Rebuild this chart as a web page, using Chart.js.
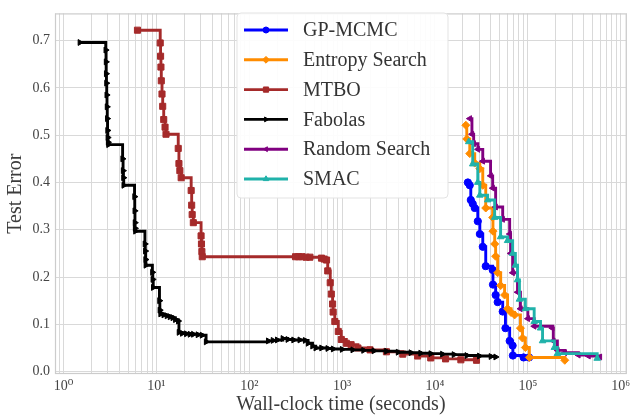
<!DOCTYPE html>
<html>
<head>
<meta charset="utf-8">
<script src="https://cdn.jsdelivr.net/npm/chart.js@4"></script>
<style>
  html, body { margin: 0; padding: 0; background: #ffffff; }
  #wrap { width: 632px; height: 419px; position: relative; }
</style>
</head>
<body>
<div id="wrap"><canvas id="c"></canvas></div>
<script>
// ---------- data ----------
const seriesNames = ['GP-MCMC', 'Entropy Search', 'MTBO', 'Fabolas', 'Random Search', 'SMAC'];

const gpTime  = [22600, 23700, 24300, 25500, 26800, 28900, 30400, 32700, 35200, 41800, 42100, 45000, 47300, 53600, 57400, 63700, 68600, 69000, 90000, 103000];
const gpError = [0.400, 0.394, 0.363, 0.355, 0.346, 0.318, 0.291, 0.264, 0.223, 0.215, 0.184, 0.162, 0.147, 0.127, 0.092, 0.065, 0.055, 0.034, 0.030, 0.030];

const esTime  = [21500, 22000, 23700, 26800, 30400, 32700, 35200, 41800, 42100, 44000, 45000, 47300, 51000, 56200, 60500, 66000, 72000, 83200, 87600, 94000, 103800, 250000];
const esError = [0.521, 0.492, 0.461, 0.441, 0.429, 0.394, 0.346, 0.326, 0.297, 0.270, 0.244, 0.209, 0.182, 0.162, 0.133, 0.125, 0.120, 0.092, 0.071, 0.051, 0.030, 0.024];

const mtboTime  = [6.26, 11.0, 11.1, 11.2, 11.3, 11.5, 11.7, 12.0, 12.4, 12.7, 17.2, 17.5, 17.9, 18.5, 23.7, 24.0, 24.3, 25.0, 30.3, 30.6, 30.9, 31.2,
                   315, 340, 370, 410, 450, 600, 640, 680, 700, 745, 765, 790, 800, 835, 910, 980, 1110, 1250, 1480,
                   2000, 3000, 4500, 6500, 9000, 13000, 19000, 28000];
const mtboError = [0.722, 0.695, 0.667, 0.644, 0.615, 0.587, 0.561, 0.533, 0.517, 0.502, 0.472, 0.440, 0.425, 0.410, 0.383, 0.352, 0.332, 0.315, 0.287, 0.270, 0.254, 0.243,
                   0.243, 0.243, 0.243, 0.242, 0.242, 0.240, 0.238, 0.236, 0.213, 0.188, 0.164, 0.143, 0.126, 0.106, 0.085, 0.068, 0.060, 0.057, 0.050,
                   0.046, 0.042, 0.037, 0.033, 0.029, 0.027, 0.025, 0.024];

const fabTime  = [1.50, 2.85, 2.87, 2.88, 2.90, 2.92, 2.94, 2.96, 2.98, 3.00, 3.02, 3.05,
                  4.33, 4.38, 4.42, 4.45, 5.82, 5.85, 5.88, 5.90, 5.95,
                  7.53, 7.60, 7.65, 7.70, 9.06, 9.15, 9.25, 10.8, 10.9, 11.1,
                  12, 13, 14, 15, 16, 17.2, 17.5, 19, 21, 23, 25, 28, 31, 34.3,
                  160, 180, 200, 230, 260, 300, 350, 400, 430, 480, 520, 600, 700, 800, 1000, 1300, 1700, 2200, 3000, 4000, 5500, 7000, 9000, 12000, 16000, 22000, 30000, 40000, 45000];
const fabError = [0.696, 0.680, 0.655, 0.630, 0.610, 0.585, 0.560, 0.535, 0.510, 0.495, 0.485, 0.480,
                  0.450, 0.425, 0.410, 0.394, 0.370, 0.340, 0.315, 0.303, 0.297,
                  0.270, 0.255, 0.237, 0.225, 0.210, 0.195, 0.178, 0.150, 0.130, 0.122,
                  0.120, 0.118, 0.116, 0.114, 0.110, 0.107, 0.083, 0.081, 0.080, 0.079, 0.079, 0.078, 0.077, 0.063,
                  0.065, 0.066, 0.067, 0.070, 0.068, 0.067, 0.067, 0.066, 0.060, 0.054, 0.050, 0.050, 0.049, 0.048, 0.047, 0.046, 0.045, 0.044, 0.043, 0.041, 0.040, 0.039, 0.038, 0.037, 0.036, 0.034, 0.033, 0.032, 0.031];

const rsTime  = [23700, 25000, 26100, 29000, 32700, 39700, 41800, 45000, 53600, 63700, 65200, 68600, 77400, 83200, 100000, 117000, 183000, 188000, 208000, 250000, 350000, 450000, 597000];
const rsError = [0.535, 0.502, 0.482, 0.470, 0.445, 0.414, 0.388, 0.348, 0.322, 0.291, 0.250, 0.209, 0.168, 0.133, 0.112, 0.096, 0.092, 0.065, 0.045, 0.040, 0.035, 0.033, 0.031];

const smTime  = [23100, 25500, 28900, 30400, 36900, 43900, 50900, 60500, 68600, 73400, 77400, 81200, 94000, 117000, 137000, 144000, 193000, 208000, 558000];
const smError = [0.486, 0.439, 0.400, 0.373, 0.363, 0.326, 0.285, 0.277, 0.250, 0.225, 0.194, 0.153, 0.133, 0.106, 0.092, 0.065, 0.051, 0.038, 0.028];

const xTickDecades = [0, 1, 2, 3, 4, 5, 6];
const xTickLabels  = ['10\u2070', '10\u00B9', '10\u00B2', '10\u00B3', '10\u2074', '10\u2075', '10\u2076'];
const yTickValues  = [0.0, 0.1, 0.2, 0.3, 0.4, 0.5, 0.6, 0.7];

// ---------- styling ----------
const SERIF = '"Liberation Serif", "DejaVu Serif", serif';
const colors  = ['#0000ff', '#ff8c00', '#a52a2a', '#000000', '#800080', '#20b2aa'];
const styles  = ['circle', 'rectRot', 'rect', 'triangle', 'triangle', 'triangle'];
const rots    = [0, 0, 0, 90, 270, 0];
const radii   = [3.6, 4.0, 4.3, 3.4, 3.4, 3.8];
const drawOrd = [5, 4, 3, 2, 1, 0];

const X_MIN = 0.81, X_MAX = 1.16e6, Y_MIN = -0.005, Y_MAX = 0.7575;

function pairs(xs, ys) { return xs.map((x, i) => ({x: x, y: ys[i]})); }
const allData = [pairs(gpTime, gpError), pairs(esTime, esError), pairs(mtboTime, mtboError),
                 pairs(fabTime, fabError), pairs(rsTime, rsError), pairs(smTime, smError)];

const datasets = seriesNames.map((name, i) => ({
  label: name,
  data: allData[i],
  borderColor: colors[i],
  backgroundColor: colors[i],
  pointBackgroundColor: colors[i],
  pointBorderColor: colors[i],
  pointStyle: styles[i],
  pointRotation: rots[i],
  pointRadius: radii[i],
  pointBorderWidth: 1,
  borderWidth: 2.9,
  stepped: 'before',
  fill: false,
  order: drawOrd[i]
}));

// log grid ticks: 1..9 x 10^k inside the range, plus the range ends
function buildLogTicks() {
  const vals = [X_MIN];
  for (let k = -1; k <= 6; k++) {
    for (let m = 1; m <= 9; m++) {
      const v = m * Math.pow(10, k);
      if (v > X_MIN * 1.0001 && v < X_MAX * 0.9999) vals.push(v);
    }
  }
  vals.push(X_MAX);
  return vals;
}

const framePlusLegend = {
  id: 'framePlusLegend',
  afterDatasetsDraw(chart) {
    const ctx = chart.ctx;
    const a = chart.chartArea;
    ctx.save();
    // axes frame
    ctx.strokeStyle = '#cccccc';
    ctx.lineWidth = 1.2;
    ctx.strokeRect(a.left + 0.5, a.top + 0.5, a.right - a.left - 1, a.bottom - a.top - 1);

    // legend box
    const bx = 237, by = 13, bw = 211, bh = 185, r = 4;
    ctx.beginPath();
    ctx.moveTo(bx + r, by);
    ctx.lineTo(bx + bw - r, by); ctx.quadraticCurveTo(bx + bw, by, bx + bw, by + r);
    ctx.lineTo(bx + bw, by + bh - r); ctx.quadraticCurveTo(bx + bw, by + bh, bx + bw - r, by + bh);
    ctx.lineTo(bx + r, by + bh); ctx.quadraticCurveTo(bx, by + bh, bx, by + bh - r);
    ctx.lineTo(bx, by + r); ctx.quadraticCurveTo(bx, by, bx + r, by);
    ctx.closePath();
    ctx.fillStyle = 'rgba(255,255,255,0.9)';
    ctx.fill();
    ctx.strokeStyle = '#e3e3e3';
    ctx.lineWidth = 1;
    ctx.stroke();

    chart.data.datasets.forEach((ds, i) => {
      const y = 30 + i * 29.8;
      ctx.strokeStyle = ds.borderColor;
      ctx.fillStyle = ds.borderColor;
      ctx.lineWidth = 2.9;
      ctx.beginPath();
      ctx.moveTo(244, y); ctx.lineTo(288, y);
      ctx.stroke();
      ctx.lineWidth = 1;
      Chart.helpers.drawPoint(ctx, {pointStyle: ds.pointStyle, rotation: ds.pointRotation,
                                    radius: ds.pointRadius - 0.6, borderWidth: 1}, 266, y);
      ctx.fillStyle = '#333333';
      ctx.font = '20px ' + SERIF;
      ctx.textAlign = 'left';
      ctx.textBaseline = 'middle';
      ctx.fillText(ds.label, 303, y + 1);
    });
    ctx.restore();
  }
};

new Chart(document.getElementById('c'), {
  type: 'line',
  data: { datasets: datasets },
  plugins: [framePlusLegend],
  options: {
    responsive: true,
    maintainAspectRatio: false,
    animation: false,
    layout: { padding: { top: 3, right: 2, left: 0, bottom: 0 } },
    plugins: { legend: { display: false }, tooltip: { enabled: false } },
    scales: {
      x: {
        type: 'logarithmic',
        min: X_MIN, max: X_MAX,
        afterBuildTicks: (scale) => { scale.ticks = buildLogTicks().map(v => ({value: v})); },
        afterFit: (scale) => { scale.height = 45; },
        grid: { color: '#d9d9d9', lineWidth: 1, drawTicks: false },
        border: { display: false },
        ticks: {
          autoSkip: false, maxRotation: 0, padding: 4,
          color: '#444444',
          font: { family: SERIF, size: 14 },
          callback: function (value) {
            const lg = Math.log10(value);
            const k = Math.round(lg);
            if (Math.abs(lg - k) < 1e-9) {
              const idx = xTickDecades.indexOf(k);
              return idx >= 0 ? xTickLabels[idx] : '';
            }
            return '';
          }
        },
        title: {
          display: true, text: 'Wall-clock time (seconds)',
          color: '#3c3c3c', font: { family: SERIF, size: 20 },
          padding: { top: 0, bottom: 2 }
        }
      },
      y: {
        type: 'linear',
        min: Y_MIN, max: Y_MAX,
        afterBuildTicks: (scale) => { scale.ticks = yTickValues.map(v => ({value: v})); },
        afterFit: (scale) => { scale.width = 55; },
        grid: { color: '#d9d9d9', lineWidth: 1, drawTicks: false },
        border: { display: false },
        ticks: {
          padding: 5, color: '#444444',
          font: { family: SERIF, size: 14 },
          callback: (v) => Number(v).toFixed(1)
        },
        title: {
          display: true, text: 'Test Error',
          color: '#3c3c3c', font: { family: SERIF, size: 20 },
          padding: { top: 4, bottom: 0 }
        }
      }
    }
  }
});
</script>
</body>
</html>
